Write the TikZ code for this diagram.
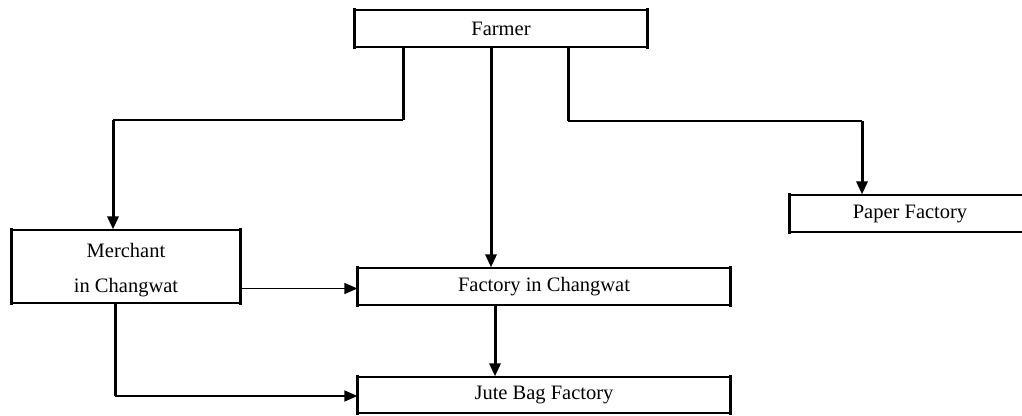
\documentclass[tikz,border=0pt]{standalone}
\usepackage{fontspec}
\setmainfont{Liberation Serif}
\usetikzlibrary{arrows.meta,calc}
\tikzset{
  boxnode/.style={draw=black,line width=1.2pt,inner sep=0pt,align=center,
    font=\fontsize{20.5}{35}\selectfont},
  side/.style={line width=2.6pt,line cap=rect},
  vline/.style={line width=3pt},
  hline/.style={line width=1.3pt},
  tip/.style={-{Triangle[length=13pt,width=11pt]}}
}
\begin{document}
\begin{tikzpicture}[x=1pt,y=-1pt]
\useasboundingbox (0,0) rectangle (1022,415);
\fill[white] (0,0) rectangle (1022,415);
\clip (0,0) rectangle (1022,415);
% nodes
\node[boxnode,minimum width=292pt,minimum height=37pt] (fa) at (501,28.5) {Farmer};
\node[boxnode,minimum width=228pt,minimum height=73pt] (me) at (126,266.5) {\rule{0pt}{22pt}Merchant\\in Changwat};
\node[boxnode,minimum width=372pt,minimum height=37pt] (fc) at (544,286.5) {Factory in Changwat};
\node[boxnode,minimum width=372pt,minimum height=36pt] (jb) at (544,395) {Jute Bag Factory};
\node[boxnode,minimum width=240pt,minimum height=37pt] (pf) at (910,213.5) {Paper Factory};
% thicker box sides
\foreach \n in {fa,me,fc,jb,pf}{
  \draw[side] (\n.north west) -- (\n.south west);
  \draw[side] (\n.north east) -- (\n.south east);
}
% helper coordinates
\coordinate (k0) at (403,120);
\coordinate (k1) at (113,120);
\coordinate (xm) at (491,0);
\coordinate (r0) at (568,121);
\coordinate (r1) at (862,121);
\coordinate (b0) at (115,396);
\coordinate (xj) at (495,0);
% Farmer -> Merchant
\draw[vline] (fa.south -| k0) -- (k0);
\draw[hline] (k0) -- (k1);
\draw[vline,tip] (k1) -- (k1 |- me.north);
% Farmer -> Factory in Changwat
\draw[vline,tip] (fa.south -| xm) -- (fc.north -| xm);
% Farmer -> Paper Factory
\draw[vline] (fa.south -| r0) -- (r0);
\draw[hline] (r0) -- (r1);
\draw[vline,tip] (r1) -- (r1 |- pf.north);
% Merchant -> Factory in Changwat
\draw[hline,tip] (me.east |- 0,288.5) -- (fc.west |- 0,288.5);
% Merchant -> Jute Bag Factory
\draw[vline] (me.south -| b0) -- (b0);
\draw[hline,tip] (b0) -- (jb.west |- b0);
% Factory -> Jute Bag Factory
\draw[vline,tip] (fc.south -| xj) -- (jb.north -| xj);
\end{tikzpicture}
\end{document}
